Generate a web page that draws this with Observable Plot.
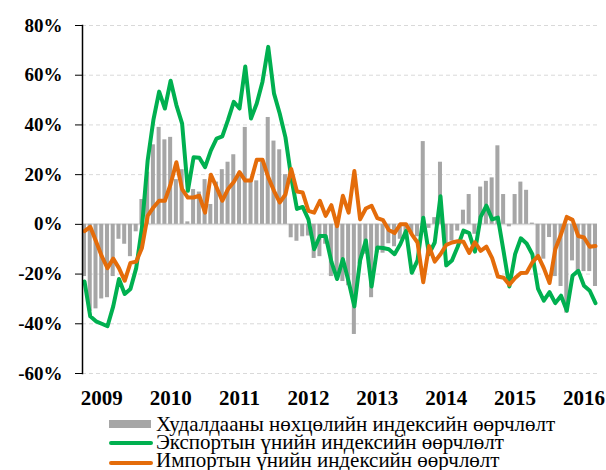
<!DOCTYPE html>
<html><head><meta charset="utf-8">
<script src="https://cdn.jsdelivr.net/npm/d3@7"></script>
<script src="https://cdn.jsdelivr.net/npm/@observablehq/plot@0.6"></script>
<style>
body{margin:0;background:#fff;}
#wrap{position:relative;width:606px;height:470px;overflow:hidden;font-family:"Liberation Serif","Times New Roman",serif;}
#chart{position:absolute;left:0;top:0;}
.row{position:absolute;left:156px;height:18px;font-size:21px;line-height:18px;color:#000;white-space:nowrap;}
.sw{position:absolute;left:109px;}
</style></head><body>
<div id="wrap"><div id="chart"></div><div id="legend"></div></div>
<script>
// Monthly series, Oct 2008 – Mar 2016 (% change, y-o-y)
const termsOfTrade = [-21,-35,-34,-30,-29.5,-21,-6,-8,-13,-3,
 10,21,32,39,34,35,18,22,1,14,
 13,18,8,17,22,25,28,21,39,17.5,
 17.5,25,43,33.5,30,20,-5.4,-6.8,-5,-4.7,
 -13.7,-13,-8,-21,-20.5,-23,-24.7,-44.3,-16,-12,
 -29.5,-11.5,-11.6,-7.8,-9,-6,-4,-4,-5,33.3,
 -1.6,2.7,25,-8,-6.7,-2.7,5.7,12,-4,15,
 17.3,18.7,31.6,12,-1,12,17,13.7,0.5,-14,
 -14,-5.3,-21,-25,-35.7,-14.7,-20,-19,-19,-25];
const exportPrice = [-23,-37,-39,-40,-41,-33,-22,-28,-26,-17.6,
 -1.4,25.7,42,53.4,46.6,57.8,48,40.5,13.5,27,
 26.8,23,29.7,34.5,35.4,42,49.3,46.6,63.5,42.6,
 48.6,57.4,71.4,52.7,44.6,35,19,6.2,7,2,
 -10,-4.7,-4.7,-15,-22,-14,-23,-33,-14.5,-6.5,
 -25,-9.3,-9.5,-10,-12,-8,-2.7,-19.5,-14.5,2.7,
 -12,-7.3,11.3,-16.5,-14.5,-9,-2.5,-3.5,-11,3,
 7.5,2,2.7,-11,-25,-12,-5.6,-7.7,-12,-26,
 -30.7,-27.3,-31.7,-28.7,-34.7,-20.7,-18.7,-24.7,-26.7,-31.7];
const importPrice = [-2.7,-1,-6.8,-12.8,-17.6,-13.8,-17.6,-22.7,-15.5,-15,
 -9.5,3.4,6.8,9.5,9.5,16.2,25,14.2,10.8,10.8,
 11.5,4.7,20,14.9,9.5,14.2,17,21,17.6,17.6,
 26,26,19,13.5,8.8,12,22.3,13.2,12.8,5.4,
 4.7,9.5,3.4,7.7,-0.7,11.5,4.7,21.5,2,6.4,
 7.5,2.5,1.7,-2.3,-3.5,0,0,-4,-7.3,-23.3,
 -8.7,-15,-12,-8.3,-7.3,-6.8,-7,-11.5,-7.2,-10.7,
 -9,-13.6,-21,-21.5,-24.3,-21.6,-19.6,-19.5,-15.3,-12.7,
 -17.6,-23.6,-10,-4,3,1.8,-4.7,-5.3,-9,-8.7];
const yearLabels = ["2009","2010","2011","2012","2013","2014","2015","2016"];
const yTicks = [-60,-40,-20,0,20,40,60,80];
const seriesNames = ["Худалдааны нөхцөлийн индексийн өөрчлөлт","Экспортын үнийн индексийн өөрчлөлт","Импортын үнийн индексийн өөрчлөлт"];
const colors = {bar:"#a6a6a6", exp:"#00b050", imp:"#e46c0a"};

const months = d3.utcMonth.range(new Date(Date.UTC(2008,9,1)), new Date(Date.UTC(2016,3,1)));
const data = months.map((m,i)=>({date:m, tot:termsOfTrade[i], exp:exportPrice[i], imp:importPrice[i]}));
const yearTicks = yearLabels.map(y => months.find(m => m.getUTCFullYear()===+y && m.getUTCMonth()===0));

const chart = Plot.plot({
  width:606, height:410,
  marginLeft:82, marginRight:9, marginTop:25, marginBottom:37,
  style:{fontFamily:'"Liberation Serif","Times New Roman",serif', background:"#fff"},
  x:{type:"band", domain:months, paddingInner:0.3, paddingOuter:0, align:0},
  y:{domain:[-60,80]},
  marks:[
    Plot.gridY(yTicks,{stroke:"#d9d9d9", strokeOpacity:1, strokeDasharray:"4,3", strokeWidth:1}),
    Plot.ruleY([0],{stroke:"#d9d9d9", strokeWidth:2}),
    Plot.barY(data,{x:"date", y:"tot", fill:colors.bar}),
    Plot.lineY(data,{x:"date", y:"exp", stroke:colors.exp, strokeWidth:4, strokeLinejoin:"round"}),
    Plot.lineY(data,{x:"date", y:"imp", stroke:colors.imp, strokeWidth:4, strokeLinejoin:"round"}),
    Plot.axisY(yTicks,{tickSize:7, tickPadding:13, tickFormat:d=>d+"%", fontSize:19, fontWeight:"bold", stroke:"#000"}),
    Plot.frame({anchor:"left", stroke:"#000", strokeWidth:1.5}),
    Plot.axisX(yearTicks,{tickSize:0, tickPadding:17, tickFormat:d=>d3.utcFormat("%Y")(d), fontSize:21, fontWeight:"bold"})
  ]
});
document.getElementById("chart").appendChild(chart);

const leg = document.getElementById("legend");
const rowsTop = [415, 433, 451];
const swatchCenter = [424, 443, 463];
seriesNames.forEach((name,i)=>{
  const sw = document.createElement("div"); sw.className="sw";
  if(i===0){ sw.style.cssText += `top:${swatchCenter[i]-4}px;width:42px;height:8px;background:${colors.bar};`; }
  else { sw.style.cssText += `top:${swatchCenter[i]-2}px;width:44px;height:4px;border-radius:2px;background:${i===1?colors.exp:colors.imp};`; }
  const t = document.createElement("div"); t.className="row"; t.style.top = rowsTop[i]+"px"; t.textContent = name;
  leg.appendChild(sw); leg.appendChild(t);
});
</script></body></html>
